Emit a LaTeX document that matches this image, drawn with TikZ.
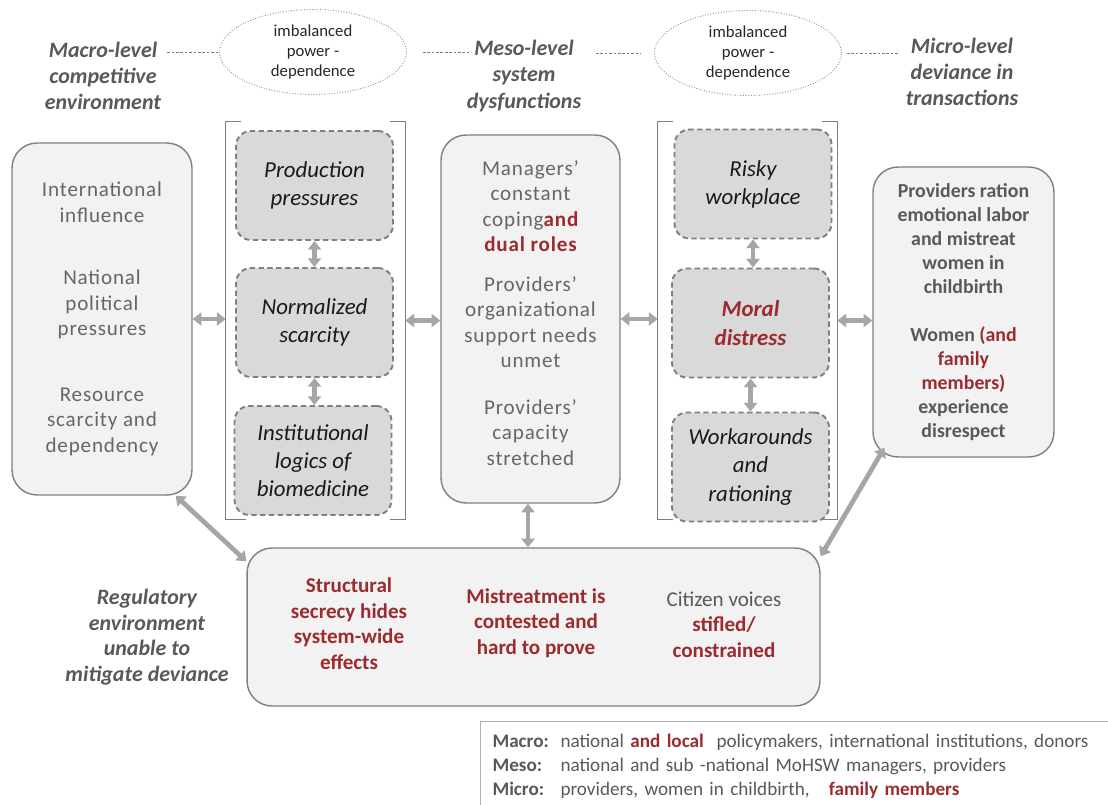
\documentclass[tikz,border=0pt]{standalone}
\usepackage{fontspec}
\setmainfont{Carlito}
\newfontfamily\spacedfont{Carlito}[LetterSpace=4]
\usetikzlibrary{arrows.meta,positioning,shapes.geometric}
\definecolor{boxfill}{HTML}{F2F2F2}
\definecolor{boxline}{HTML}{7F7F7F}
\definecolor{dashfill}{HTML}{D9D9D9}
\definecolor{arrowgray}{HTML}{A6A6A6}
\definecolor{deepred}{HTML}{9C2B2E}
\definecolor{textgray}{HTML}{595959}
\definecolor{softgray}{HTML}{666666}

\begin{document}
\begin{tikzpicture}[x=0.02cm,y=-0.02cm,>={Triangle[width=7.5pt,length=5pt]}]
\tikzstyle{outer}=[draw=boxline, fill=boxfill, line width=0.8pt, rounded corners=0.5cm, align=center, inner sep=0pt]
\tikzstyle{inner}=[draw=boxline, fill=dashfill, line width=1.1pt, dash pattern=on 3pt off 2pt, rounded corners=0.3cm, align=center, minimum width=3.14cm, minimum height=2.18cm, inner sep=0pt, font=\fontsize{13}{16}\selectfont\itshape, text=black!90]
\tikzstyle{heading}=[align=center, font=\fontsize{12.5}{15}\selectfont\bfseries\itshape, text=textgray]
\tikzstyle{power}=[ellipse, draw=boxline!90, densely dotted, line width=0.5pt, minimum width=3.74cm, minimum height=1.7cm, align=center, inner sep=0pt, font=\fontsize{9.5}{11.4}\selectfont, text=black!85]
\tikzstyle{link}=[boxline, dash pattern=on 1.5pt off 1pt, line width=0.5pt]
\tikzstyle{flow}=[<->, arrowgray, line width=2.7pt]
\tikzstyle{bracket}=[boxline, line width=0.8pt]
\tikzstyle{redbold}=[text=deepred, font=\fontsize{12}{14.6}\selectfont\bfseries, align=center]
\useasboundingbox[fill=white] (0,0) rectangle (1108,804);

% level headings and power-dependence ellipses
\node[heading] (hmacro) at (103,76) {Macro-level\\competitive\\environment};
\node[heading] (hmeso) at (524,76) {Meso-level\\system\\dysfunctions};
\node[heading] (hmicro) at (962,72) {Micro-level\\deviance in\\transactions};
\node[power] (ell1) at (313,52) {imbalanced\\power -\\dependence};
\node[power] (ell2) at (748,53) {imbalanced\\power -\\dependence};
\coordinate (m1) at (470,52);
\coordinate (m2) at (596,53);
\draw[link] (hmacro.east |- ell1.west) -- (ell1.west);
\draw[link] ([xshift=0.32cm]ell1.east) -- (m1);
\draw[link] (m2) -- ([xshift=-0.28cm]ell2.west);
\draw[link] ([xshift=0.1cm]ell2.east) -- (hmicro.west |- ell2.east);

% macro level
\node[outer, minimum width=3.6cm, minimum height=7.04cm, text=softgray, font=\spacedfont\fontsize{12}{14.5}\selectfont] (macro) at (102,319)
  {International\\influence\\[21pt]National\\political\\pressures\\[23pt]Resource\\scarcity and\\dependency};

% meso bracket
\node[inner sep=0pt, minimum width=3.58cm, minimum height=7.94cm] (brA) at (315.5,320.5) {};
\draw[bracket] ([xshift=0.3cm]brA.north west) -- (brA.north west) -- (brA.south west) -- ([xshift=0.4cm]brA.south west);
\draw[bracket] ([xshift=-0.3cm]brA.north east) -- (brA.north east) -- (brA.south east) -- ([xshift=-0.3cm]brA.south east);
\node[inner] (prod) at (314.5,185.5) {Production\\pressures};
\node[inner] (norm) at (314.5,322.5) {Normalized\\scarcity};
\node[inner] (inst) at (313,460.5) {Institutional\\logics of\\biomedicine};

\node[outer, minimum width=3.58cm, minimum height=7.36cm, text=softgray, font=\spacedfont\fontsize{12}{14.5}\selectfont] (meso) at (530.5,319)
  {Managers’\\constant\\coping{\color{deepred}\bfseries and}\\{\color{deepred}\bfseries dual roles}\\[8pt]Providers’\\organizational\\support needs\\unmet\\[12pt]Providers’\\capacity\\stretched\\[-7.5pt]\mbox{}};

% micro bracket
\node[inner sep=0pt, minimum width=3.58cm, minimum height=7.94cm] (brB) at (747.5,320.5) {};
\draw[bracket] ([xshift=0.3cm]brB.north west) -- (brB.north west) -- (brB.south west) -- ([xshift=0.3cm]brB.south west);
\draw[bracket] ([xshift=-0.3cm]brB.north east) -- (brB.north east) -- (brB.south east) -- ([xshift=-0.3cm]brB.south east);
\node[inner] (risky) at (753,184) {Risky\\workplace};
\node[inner, text=deepred, font=\fontsize{13}{16.5}\selectfont\bfseries\itshape] (moral) at (750.5,323) {Moral\\distress};
\node[inner] (work) at (750.5,467) {Workarounds\\and\\rationing};

\node[outer, minimum width=3.62cm, minimum height=5.8cm, text=textgray, font=\fontsize{11.3}{13.7}\selectfont\bfseries] (micro) at (963.5,312)
  {Providers ration\\emotional labor\\and mistreat\\women in\\childbirth\\[13.7pt]Women {\color{deepred}(and}\\{\color{deepred}family}\\{\color{deepred}members)}\\experience\\disrespect};

% regulatory level
\node[outer, minimum width=11.46cm, minimum height=3.16cm] (regul) at (533.5,627) {};
\node[redbold] (secrecy) at (349,623.5) {Structural\\secrecy hides\\system-wide\\effects};
\node[redbold] (contest) at (536,623) {Mistreatment is\\contested and\\hard to prove};
\node[redbold] (voices) at (724,624.5) {{\color{textgray}\mdseries Citizen voices}\\stifled/\\constrained};
\node[heading, font=\fontsize{12.5}{14.6}\selectfont\bfseries\itshape] (hreg) at (147,637) {Regulatory\\environment\\unable to\\mitigate deviance};

% arrows
\draw[flow] (macro.east) -- (macro.east -| brA.west);
\draw[flow] (brA.east) -- (brA.east -| meso.west);
\draw[flow] (meso.east) -- (meso.east -| brB.west);
\draw[flow] (brB.east) -- (brB.east -| micro.west);
\draw[flow] (prod.south) -- (prod.south |- norm.north);
\draw[flow] (norm.south) -- (norm.south |- inst.north);
\draw[flow] (risky.south) -- (risky.south |- moral.north);
\draw[flow] (moral.south) -- (work.north);
\draw[flow] ([xshift=-0.05cm]meso.south) -- ([xshift=-0.05cm]meso.south |- regul.north);
\draw[flow] ([xshift=-0.34cm]macro.south east) -- ([yshift=-0.28cm]regul.north west);
\draw[flow] ([xshift=0.24cm,yshift=0.2cm]micro.south west) -- ([yshift=-0.18cm]regul.north east);

% legend
\node[draw=boxline!60, line width=0.6pt, anchor=north west, text width=12.5cm, inner xsep=0.24cm, minimum height=1.8cm, align=left, text=textgray, font=\fontsize{10.9}{13.7}\selectfont] (legend) at (480,721)
  {\makebox[1.36cm][l]{\bfseries Macro:}national {\color{deepred}\bfseries and local}\ \ policymakers, international institutions, donors\\
   \makebox[1.36cm][l]{\bfseries Meso:}national and sub -national MoHSW managers, providers\\
   \makebox[1.36cm][l]{\bfseries Micro:}providers, women in childbirth,\ \ \ {\color{deepred}\bfseries family members}};
\end{tikzpicture}
\end{document}
